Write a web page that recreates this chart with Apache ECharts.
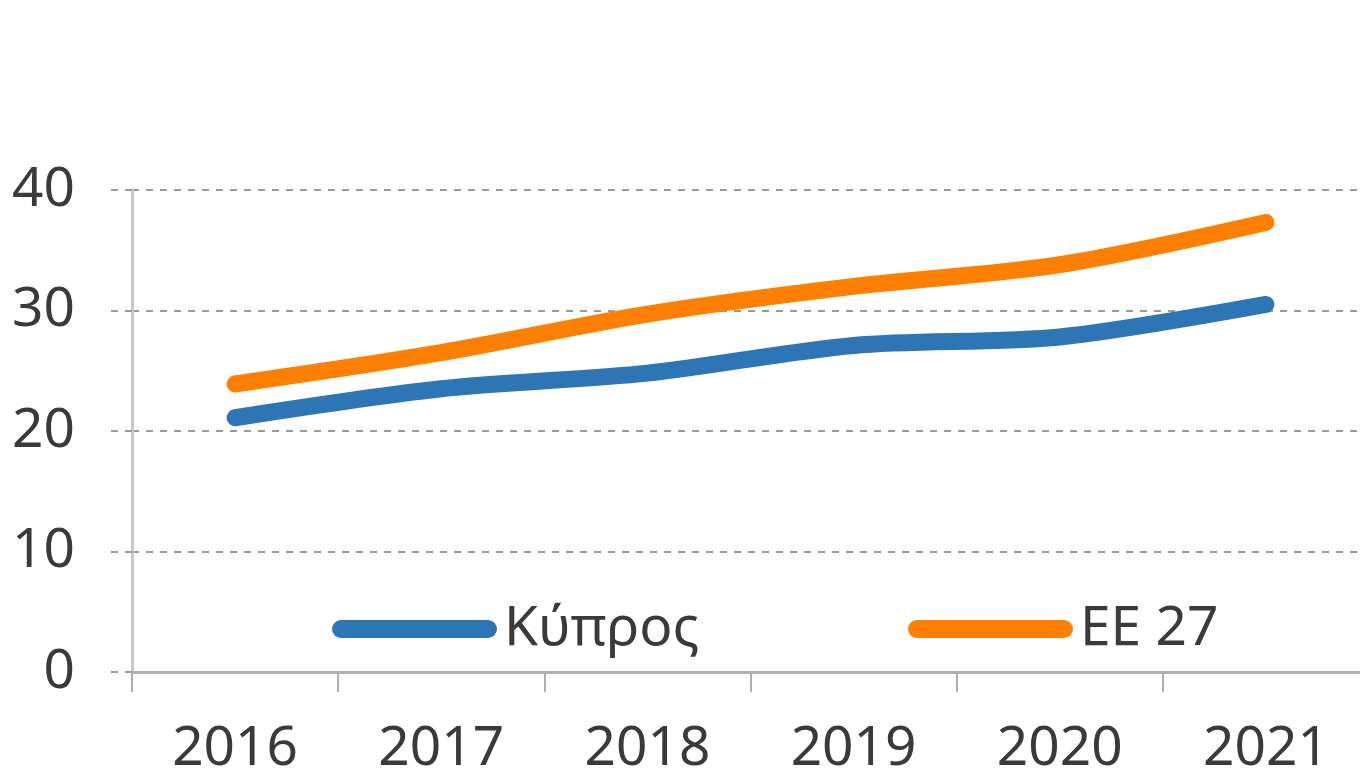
<!DOCTYPE html>
<html>
<head>
<meta charset="utf-8">
<script src="https://cdn.jsdelivr.net/npm/echarts@6/dist/echarts.min.js"></script>
<style>
  html, body { margin: 0; padding: 0; background: #fff; }
  #chart { width: 1360px; height: 781px; }
</style>
</head>
<body>
<div id="chart"></div>
<script>
const years = ['2016', '2017', '2018', '2019', '2020', '2021'];
const cyprus = [21.1, 23.5, 24.8, 27.1, 27.8, 30.5];
const eu27 = [23.9, 26.5, 29.7, 32.0, 33.8, 37.3];
const yTicks = [0, 10, 20, 30, 40];

const FONT = '"Noto Sans", "Open Sans", sans-serif';
const TEXT = '#3a3a3a';
const legendIcon = 'path://M9,0 H156 A9,9 0 0 1 156,18 H9 A9,9 0 0 1 9,0 Z';

const chart = echarts.init(document.getElementById('chart'));

const legendBase = {
  top: 601,
  padding: 0,
  itemWidth: 165,
  itemHeight: 18,
  icon: legendIcon,
  textStyle: { fontFamily: FONT, fontSize: 55, lineHeight: 56, color: TEXT, padding: [0, 0, 0, 2] }
};

chart.setOption({
  animation: false,
  backgroundColor: '#fff',
  grid: { left: 132, right: -9, top: 190, bottom: 109, outerBoundsMode: 'none' },
  legend: [
    Object.assign({}, legendBase, { left: 332, data: ['Κύπρος'] }),
    Object.assign({}, legendBase, { left: 908, data: ['ΕΕ 27'] })
  ],
  xAxis: {
    type: 'category',
    data: years,
    boundaryGap: true,
    axisLine: { lineStyle: { color: '#b0b0b0', width: 3 } },
    axisTick: { show: true, length: 20, lineStyle: { color: '#b0b0b0', width: 2 } },
    axisLabel: { fontFamily: FONT, fontSize: 55, color: TEXT, margin: 50 }
  },
  yAxis: {
    type: 'value',
    min: yTicks[0],
    max: yTicks[yTicks.length - 1],
    interval: 10,
    axisLine: { show: true, lineStyle: { color: '#c8c8c8', width: 3 } },
    axisTick: { show: true, length: 27, lineStyle: { color: '#9a9a9a', width: 2, type: [7, 7] } },
    axisLabel: { fontFamily: FONT, fontSize: 55, color: TEXT, margin: 57 },
    splitLine: { show: true, lineStyle: { color: '#9a9a9a', width: 2, type: [7, 7] } }
  },
  series: [
    {
      name: 'Κύπρος',
      type: 'line',
      data: cyprus,
      smooth: 0.3,
      showSymbol: false,
      color: '#2e75b6',
      lineStyle: { width: 17, cap: 'round', join: 'round' }
    },
    {
      name: 'ΕΕ 27',
      type: 'line',
      data: eu27,
      smooth: 0.3,
      showSymbol: false,
      color: '#ff8000',
      lineStyle: { width: 17, cap: 'round', join: 'round' }
    }
  ]
});

window.addEventListener('resize', () => chart.resize());
</script>
</body>
</html>
